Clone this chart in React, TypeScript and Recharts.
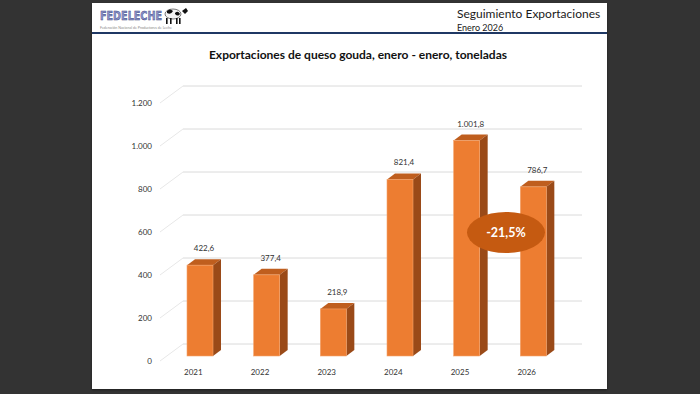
import { Bar, BarChart, CartesianGrid, LabelList, XAxis, YAxis } from "recharts";

const years = ["2021", "2022", "2023", "2024", "2025", "2026"];
const tonnes = [422.6, 377.4, 218.9, 821.4, 1001.8, 786.7];
const yTicks = [0, 200, 400, 600, 800, 1000, 1200];
const changeLabel = "-21,5%";

const data = years.map((year, i) => ({ year, value: tonnes[i] }));

const FONT = "Lato, 'Open Sans', sans-serif";

// Spanish style numbers: 1.001,8
function fmt(v: number, decimals: number) {
  const [int, dec] = v.toFixed(decimals).split(".");
  const grouped = int.replace(/\B(?=(\d{3})+(?!\d))/g, ".");
  return dec ? `${grouped},${dec}` : grouped;
}

const DX = 8;
const DY = 6;

function Bar3D(props: any) {
  const { x, y, width, height } = props;
  if (!height) return null;
  return (
    <g>
      <polygon
        points={`${x},${y} ${x + DX},${y - DY} ${x + width + DX},${y - DY} ${x + width},${y}`}
        fill="#BF5E1E"
      />
      <polygon
        points={`${x + width},${y} ${x + width + DX},${y - DY} ${x + width + DX},${y + height - DY} ${x + width},${y + height}`}
        fill="#9A4A18"
      />
      <rect x={x} y={y} width={width} height={height} fill="#ED7D31" stroke="#F3A36B" strokeWidth={0.6} />
    </g>
  );
}

// 3D-ish gridline: floor diagonal + back wall line
function GridLine(props: any) {
  const { x1, x2, y1 } = props;
  return (
    <g key={props.key}>
      <line x1={x1 - 7} y1={y1 + 5} x2={x1 + 16} y2={y1 - 12} stroke="#e8e8e8" />
      <line x1={x1 + 16} y1={y1 - 12} x2={x2 + 15} y2={y1 - 12} stroke="#dadada" />
    </g>
  );
}

function YTick(props: any) {
  const { x, y, payload } = props;
  return (
    <text x={x - 7} y={y + 8} textAnchor="end" fontSize={8} fill="#333" fontFamily={FONT}>
      {fmt(payload.value, 0)}
    </text>
  );
}

function XTick(props: any) {
  const { x, y, payload } = props;
  return (
    <text x={x - 7} y={y + 11} textAnchor="middle" fontSize={8} fill="#333" fontFamily={FONT}>
      {payload.value}
    </text>
  );
}

function ValueLabel(props: any) {
  const { x, y, width, value } = props;
  return (
    <text x={x + width / 2 + 4} y={y - 14} textAnchor="middle" fontSize={8} fill="#333" fontFamily={FONT}>
      {fmt(value, 1)}
    </text>
  );
}

function Logo() {
  return (
    <svg width={95} height={30} style={{ position: "absolute", left: 98, top: 4 }}>
      <text
        x={2}
        y={16}
        fontSize={13}
        fontWeight={700}
        fontFamily="'DejaVu Sans', sans-serif"
        fill="#8C96CC"
        stroke="#3B4280"
        strokeWidth={0.5}
        textLength={62}
        lengthAdjust="spacingAndGlyphs"
      >
        FEDELECHE
      </text>
      <text x={2} y={25} fontSize={3.6} fill="#8a8a8a" fontFamily={FONT}>
        Federación Nacional de Productores de Leche
      </text>
      <g>
        <ellipse cx={75} cy={10} rx={8} ry={5} fill="#f4f4f4" stroke="#222" strokeWidth={0.6} />
        <path d="M69 7 q3 -3 6 0 q-2 4 -6 2 z" fill="#111" />
        <path d="M77 9 q3 -3 5 1 q-2 3 -5 0 z" fill="#111" />
        <rect x={68} y={14} width={1.6} height={6} fill="#111" />
        <rect x={72} y={14} width={1.6} height={6} fill="#111" />
        <rect x={78} y={14} width={1.6} height={6} fill="#111" />
        <rect x={81} y={14} width={1.6} height={6} fill="#111" />
        <path d="M84 7 l4 -3 l2 3 l-3 3 z" fill="#111" />
      </g>
    </svg>
  );
}

export default function App() {
  return (
    <div style={{ position: "absolute", left: 0, top: 0, width: 700, height: 394, background: "#333333", overflow: "hidden" }}>
      {/* slide */}
      <div
        style={{
          position: "absolute",
          left: 92,
          top: 3,
          width: 515,
          height: 386,
          background: "#ffffff",
          boxShadow: "0 1px 2px rgba(0,0,0,0.4)",
        }}
      />
      <div style={{ position: "absolute", left: 92, top: 32, width: 515, height: 2, background: "#1F3864" }} />
      <Logo />
      <div
        style={{
          position: "absolute",
          left: 457,
          top: 6,
          fontFamily: FONT,
          fontSize: 12,
          color: "#1a1a1a",
          whiteSpace: "nowrap",
        }}
      >
        Seguimiento Exportaciones
      </div>
      <div
        style={{
          position: "absolute",
          left: 457,
          top: 22,
          fontFamily: FONT,
          fontSize: 9,
          color: "#1a1a1a",
          whiteSpace: "nowrap",
        }}
      >
        Enero 2026
      </div>
      <div
        style={{
          position: "absolute",
          left: 0,
          width: 716,
          top: 47,
          textAlign: "center",
          fontFamily: FONT,
          fontSize: 12,
          fontWeight: 700,
          color: "#111",
          whiteSpace: "nowrap",
        }}
      >
        Exportaciones de queso gouda, enero - enero, toneladas
      </div>

      <div style={{ position: "absolute", left: 0, top: 0 }}>
        <BarChart width={700} height={394} data={data} margin={{ top: 98, right: 133, bottom: 8, left: 107 }}>
          <CartesianGrid vertical={false} horizontal={GridLine} />
          <XAxis dataKey="year" axisLine={false} tickLine={false} tick={XTick} interval={0} height={30} />
          <YAxis
            domain={[0, 1200]}
            ticks={yTicks}
            width={60}
            axisLine={false}
            tickLine={false}
            tick={YTick}
            interval={0}
          />
          <Bar dataKey="value" barSize={26} shape={Bar3D} isAnimationActive={false}>
            <LabelList dataKey="value" content={ValueLabel} />
          </Bar>
        </BarChart>
      </div>

      <div
        style={{
          position: "absolute",
          left: 467,
          top: 212,
          width: 78,
          height: 41,
          borderRadius: "50%",
          background: "#C55A11",
          color: "#fff",
          fontFamily: FONT,
          fontWeight: 700,
          fontSize: 12.5,
          display: "flex",
          alignItems: "center",
          justifyContent: "center",
        }}
      >
        {changeLabel}
      </div>
    </div>
  );
}
